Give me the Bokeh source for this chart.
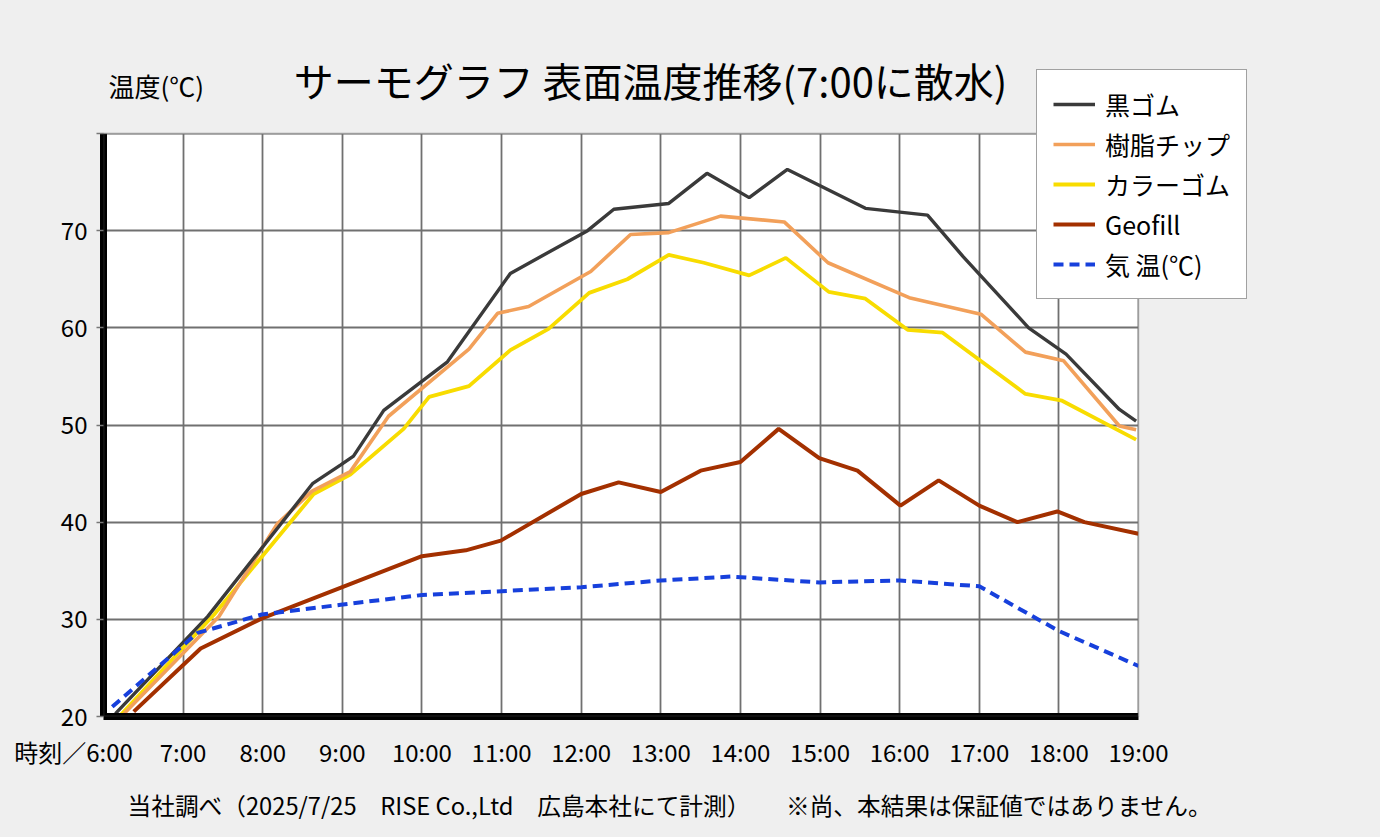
from bokeh.plotting import figure
from bokeh.models import (Range1d, FixedTicker, Label, Legend, LegendItem,
                          BoxAnnotation, Title, Grid)
from bokeh.embed import file_html
from bokeh.resources import INLINE

FONT = "Noto Sans CJK JP"

# ---------------- data ----------------
title_text = "サーモグラフ 表面温度推移(7:00に散水)"
y_axis_title = "温度(℃)"
x_axis_title = "時刻／6:00"
note_text = "当社調べ（2025/7/25　RISE Co.,Ltd　広島本社にて計測）　　※尚、本結果は保証値ではありません。"

hour_ticks = [6, 7, 8, 9, 10, 11, 12, 13, 14, 15, 16, 17, 18, 19]
hour_labels = [x_axis_title + "\u3000\u3000\u2002", "7:00", "8:00", "9:00", "10:00",
               "11:00", "12:00", "13:00", "14:00", "15:00", "16:00", "17:00",
               "18:00", "19:00"]
temp_ticks = [20, 30, 40, 50, 60, 70, 80]
temp_labels = ["20", "30", "40", "50", "60", "70", ""]

series_names = ["黒ゴム", "樹脂チップ", "カラーゴム", "Geofill", "気 温(℃)"]

black_t = [6.15, 7.31, 8.63, 8.98, 9.14, 9.52, 10.32, 11.11, 12.08, 12.41, 13.10,
           13.58, 14.11, 14.59, 15.57, 16.35, 16.80, 17.62, 18.09, 18.76, 18.97]
black_v = [20.3, 30.3, 44.0, 45.9, 46.8, 51.5, 56.5, 65.6, 70.0, 72.2, 72.8,
           75.9, 73.4, 76.3, 72.3, 71.6, 67.3, 60.0, 57.3, 51.6, 50.4]

resin_t = [6.26, 7.45, 8.18, 8.62, 9.10, 9.58, 10.59, 10.95, 11.34, 12.12, 12.62,
           13.10, 13.75, 14.55, 15.10, 16.12, 17.02, 17.58, 18.06, 18.76, 18.97]
resin_v = [20.3, 30.3, 39.8, 43.2, 45.2, 50.9, 57.8, 61.5, 62.2, 65.8, 69.6,
           69.8, 71.5, 70.9, 66.7, 63.1, 61.4, 57.5, 56.6, 49.9, 49.5]

color_t = [6.21, 7.39, 8.64, 9.10, 9.77, 10.09, 10.59, 11.11, 11.59, 12.10, 12.58,
           13.10, 13.54, 14.11, 14.57, 15.11, 15.57, 16.10, 16.54, 17.58, 18.04, 18.97]
color_v = [20.1, 30.5, 42.9, 44.9, 49.6, 52.9, 54.0, 57.7, 59.9, 63.6, 65.0,
           67.5, 66.7, 65.4, 67.2, 63.7, 63.0, 59.8, 59.5, 53.2, 52.5, 48.5]

geo_t = [6.38, 7.22, 7.99, 10.00, 10.55, 10.99, 12.00, 12.47, 13.00, 13.50, 14.00,
         14.48, 14.99, 15.47, 16.01, 16.49, 17.00, 17.48, 17.98, 18.32, 19.00]
geo_v = [20.5, 27.0, 30.1, 36.5, 37.1, 38.1, 42.9, 44.1, 43.1, 45.3, 46.2,
         49.6, 46.6, 45.3, 41.7, 44.3, 41.7, 40.0, 41.1, 40.0, 38.8]

air_t = [6.11, 7.18, 7.99, 8.98, 10.00, 11.00, 12.00, 13.00, 13.88, 14.99, 16.00,
         17.00, 18.00, 19.00]
air_v = [21.0, 28.6, 30.5, 31.5, 32.5, 32.9, 33.3, 34.0, 34.4, 33.8, 34.0,
         33.4, 28.8, 25.2]

# ---------------- layout geometry (pixels) ----------------
W, H = 1380, 837
PLOT_L, PLOT_R, PLOT_T, PLOT_B = 103, 1138, 133, 716   # plot area on the page
BG = "#efefef"
GRID = "#707070"

x0, x1 = hour_ticks[0], hour_ticks[-1]
y0, y1 = temp_ticks[0], temp_ticks[-1]
px_x = (PLOT_R - PLOT_L) / (x1 - x0)
px_y = (PLOT_B - PLOT_T) / (y1 - y0)
# the frame extends to the right and top edges of the page so that the title
# and the legend can sit in it; the area outside the plot stays grey
x_end = x1 + (W - PLOT_R) / px_x
y_end = y1 + PLOT_T / px_y

p = figure(width=W, height=H, output_backend="svg", toolbar_location=None,
           x_range=Range1d(x0, x_end), y_range=Range1d(y0, y_end),
           min_border_left=PLOT_L, min_border_right=0,
           min_border_top=0, min_border_bottom=H - PLOT_B)
p.background_fill_color = BG
p.border_fill_color = BG
p.outline_line_color = None

# white plot area below everything else
p.add_layout(BoxAnnotation(left=x0, right=x1, bottom=y0, top=y1, fill_color="white",
                           fill_alpha=1, line_color=None, level="image"))

# grid lines (the first tick of each axis is covered by the thick axis line)
p.xgrid.ticker = FixedTicker(ticks=hour_ticks[1:])
p.ygrid.ticker = FixedTicker(ticks=temp_ticks[1:])
for g in (p.xgrid, p.ygrid):
    g.grid_line_color = GRID
    g.grid_line_width = 1.8
if "cross_bounds" in Grid.properties():
    p.xgrid.cross_bounds = (y0, y1)
    p.ygrid.cross_bounds = (x0, x1)

p.xaxis.ticker = FixedTicker(ticks=hour_ticks)
p.xaxis.major_label_overrides = {t: l for t, l in zip(hour_ticks, hour_labels)}
p.xaxis.bounds = (x0, x1)
p.yaxis.ticker = FixedTicker(ticks=temp_ticks)
p.yaxis.major_label_overrides = {t: l for t, l in zip(temp_ticks, temp_labels)}
p.yaxis.bounds = (y0, y1)

for ax in (p.xaxis, p.yaxis):
    ax.axis_line_color = "black"
    ax.axis_line_width = 7
    ax.minor_tick_line_color = None
    ax.major_label_text_font = FONT
    ax.major_label_text_font_size = "24px"
    ax.major_label_text_color = "black"
    ax.major_tick_in = 0
p.xaxis.major_tick_out = 0
p.xaxis.major_tick_line_color = None
p.xaxis.major_label_standoff = 17
p.yaxis.major_tick_out = 7
p.yaxis.major_tick_line_color = "#777777"
p.yaxis.major_tick_line_width = 1.5
p.yaxis.major_label_standoff = 9

# lines
r_geo = p.line(geo_t, geo_v, line_color="#a33000", line_width=4)
r_color = p.line(color_t, color_v, line_color="#f8dc00", line_width=3.8)
r_resin = p.line(resin_t, resin_v, line_color="#f2a05a", line_width=3.6)
r_black = p.line(black_t, black_v, line_color="#3a3a3a", line_width=3.4)
r_air = p.line(air_t, air_v, line_color="#1740dc", line_width=4, line_dash="10 6")

# grey masks over the grid lines outside the plot area, then the plot outline
p.add_layout(BoxAnnotation(left=x1, fill_color=BG, fill_alpha=1, line_color=None))
p.add_layout(BoxAnnotation(bottom=y1, fill_color=BG, fill_alpha=1, line_color=None))
p.add_layout(BoxAnnotation(left=x0, right=x1, bottom=y0, top=y1, fill_alpha=0,
                           line_color=GRID, line_width=1.8))

legend = Legend(
    items=[LegendItem(label=series_names[0], renderers=[r_black]),
           LegendItem(label=series_names[1], renderers=[r_resin]),
           LegendItem(label=series_names[2], renderers=[r_color]),
           LegendItem(label=series_names[3], renderers=[r_geo]),
           LegendItem(label=series_names[4], renderers=[r_air])],
    location=(1036 - PLOT_L, PLOT_B - 299), margin=0, padding=16, spacing=4,
    glyph_width=42, glyph_height=26, label_height=26, label_standoff=10,
    label_text_font=FONT, label_text_font_size="25px", label_text_color="black",
    border_line_color="#444444", border_line_width=1.5,
    background_fill_color="white", background_fill_alpha=1.0,
)
p.add_layout(legend)

# texts inside the frame (screen units from the frame's bottom-left corner)
p.add_layout(Label(x=650 - PLOT_L, y=PLOT_B - 79, x_units="screen", y_units="screen",
                   text=title_text, text_font=FONT, text_font_size="40px",
                   text_color="black", text_align="center", text_baseline="middle"))
p.add_layout(Label(x=108 - PLOT_L, y=PLOT_B - 85, x_units="screen", y_units="screen",
                   text=y_axis_title, text_font=FONT, text_font_size="26px",
                   text_color="black", text_align="left", text_baseline="middle"))

# note below the axis
p.add_layout(Title(text=note_text, align="left", offset=127 - PLOT_L,
                   text_font=FONT, text_font_size="23.7px", text_font_style="normal",
                   text_color="black", standoff=28), "below")

html = file_html(p, INLINE)
html = html.replace("<head>", "<head><style>body{background-color:#efefef;}</style>", 1)
open("out.html", "w").write(html)
